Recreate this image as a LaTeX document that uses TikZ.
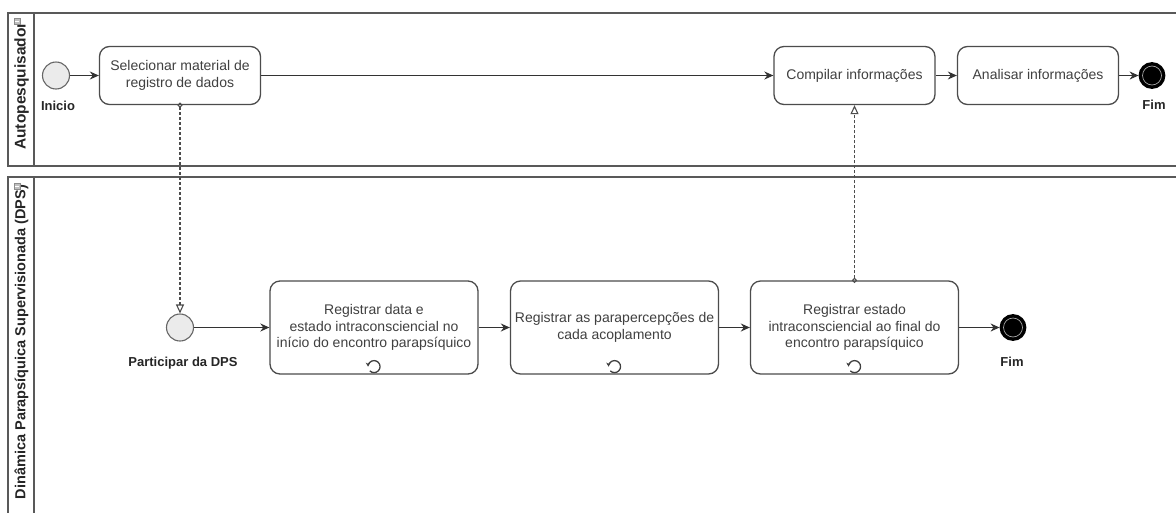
\documentclass[tikz,border=0pt]{standalone}
\usepackage{fontspec}
\setmainfont{Liberation Sans}
\usetikzlibrary{arrows.meta}

\begin{document}
\begin{tikzpicture}[
        x=1pt, y=-1pt,
        pool/.style={draw=black!65, line width=1.3pt},
        poollabel/.style={
            rotate=90, text=black!85,
            font=\bfseries\fontsize{#1}{16}\selectfont,
          },
        poollabel/.default=14.5,
        collapse/.style={
            draw=black!45, fill=black!25, line width=0.4pt,
            minimum size=6.5pt, inner sep=0pt,
            path picture={\draw[white, line width=0.8pt]
                ([xshift=1.5pt]path picture bounding box.west) --
                ([xshift=-1.5pt]path picture bounding box.east);},
          },
        task/.style={
            draw=black!70, line width=1.3pt, rounded corners=10pt,
            align=center, text=black!75, inner sep=2pt,
            font=\fontsize{14}{16.5}\selectfont,
            minimum width=161pt, minimum height=58pt,
          },
        longtask/.style={task, minimum width=208pt, minimum height=93pt},
        startevent/.style={
            circle, draw=black!60, fill=black!8, line width=1.1pt,
            minimum size=27pt, inner sep=0pt,
          },
        endevent/.style={
            circle, draw=black, fill=black, line width=2.8pt,
            minimum size=24pt, inner sep=0pt,
            path picture={\draw[black!35, line width=0.7pt]
                (path picture bounding box.center) circle[radius=9.5pt];},
          },
        eventlabel/.style={font=\bfseries\fontsize{13}{15}\selectfont, text=black!85},
        flow/.style={draw=black!80, line width=1.3pt, -{Stealth[length=9pt, width=8pt]}},
        message/.style={
            draw=black!70, line width=1.1pt, dash pattern=on 3pt off 2pt,
            {Circle[open, length=5pt, width=5pt]}-{Triangle[open, length=9pt, width=8pt]},
            shorten <=-2.5pt,
          },
        loopmark/.style={draw=black!75, line width=1.3pt, -{Stealth[length=4pt, width=4.5pt]}},
      ]
        \useasboundingbox (0,0) rectangle (1176,512);
        \clip (0,0) rectangle (1176,512);
        \fill[white] (0,0) rectangle (1176,512);

        \draw[pool] (8,13) rectangle (1190,166);
        \draw[pool] (34,13) -- (34,166);
        \draw[pool] (8,177) rectangle (1190,530);
        \draw[pool] (34,177) -- (34,530);
        \node[poollabel=15.5] (l1) at (21.5,86) {Autopesquisador};
        \node[poollabel] (l2) at (21.5,342) {Dinâmica Parapsíquica Supervisionada (DPS)};
        \node[collapse] (c1) at (17,21) {};
        \node[collapse] (c2) at (17,186) {};

        \node[startevent] (s1) at (56,75.5) {};
        \node[eventlabel] (ls1) at (58,106) {Inicio};
        \node[task] (a1) at (180,75.5) {Selecionar material de\\registro de dados};
        \node[task] (a2) at (854.5,75.5) {Compilar informações};
        \node[task] (a3) at (1038,75.5) {Analisar informações};
        \node[endevent] (e1) at (1152,75.5) {};
        \node[eventlabel] (le1) at (1154,105) {Fim};

        \node[startevent] (s2) at (180,327.5) {};
        \node[eventlabel] (ls2) at (183,363) {Participar da DPS};
        \node[longtask] (b1) at (374,327.5) {Registrar data e\\estado intraconsciencial no\\início do encontro parapsíquico};
        \node[longtask] (b2) at (614.5,327.5) {Registrar as parapercepções de\\cada acoplamento};
        \node[longtask] (b3) at (854.5,327.5) {Registrar estado\\intraconsciencial ao final do\\encontro parapsíquico};
        \node[endevent] (e2) at (1013,327.5) {};
        \node[eventlabel] (le2) at (1012,362) {Fim};

        \draw[flow] (s1) -- (a1);
        \draw[flow] (a1) -- (a2);
        \draw[flow] (a2) -- (a3);
        \draw[flow] (a3) -- (e1);
        \draw[flow] (s2) -- (b1);
        \draw[flow] (b1) -- (b2);
        \draw[flow] (b2) -- (b3);
        \draw[flow] (b3) -- (e2);

        \draw[message] (a1.south) -- (s2.north);
        \draw[message] (b3.north) -- (a2.south);

        \draw[loopmark] ([yshift=8pt]b1.south) ++(-4.2,4.2) arc[start angle=135, end angle=-180, radius=6];
        \draw[loopmark] ([yshift=8pt]b2.south) ++(-4.2,4.2) arc[start angle=135, end angle=-180, radius=6];
        \draw[loopmark] ([yshift=8pt]b3.south) ++(-4.2,4.2) arc[start angle=135, end angle=-180, radius=6];
\end{tikzpicture}
\end{document}
